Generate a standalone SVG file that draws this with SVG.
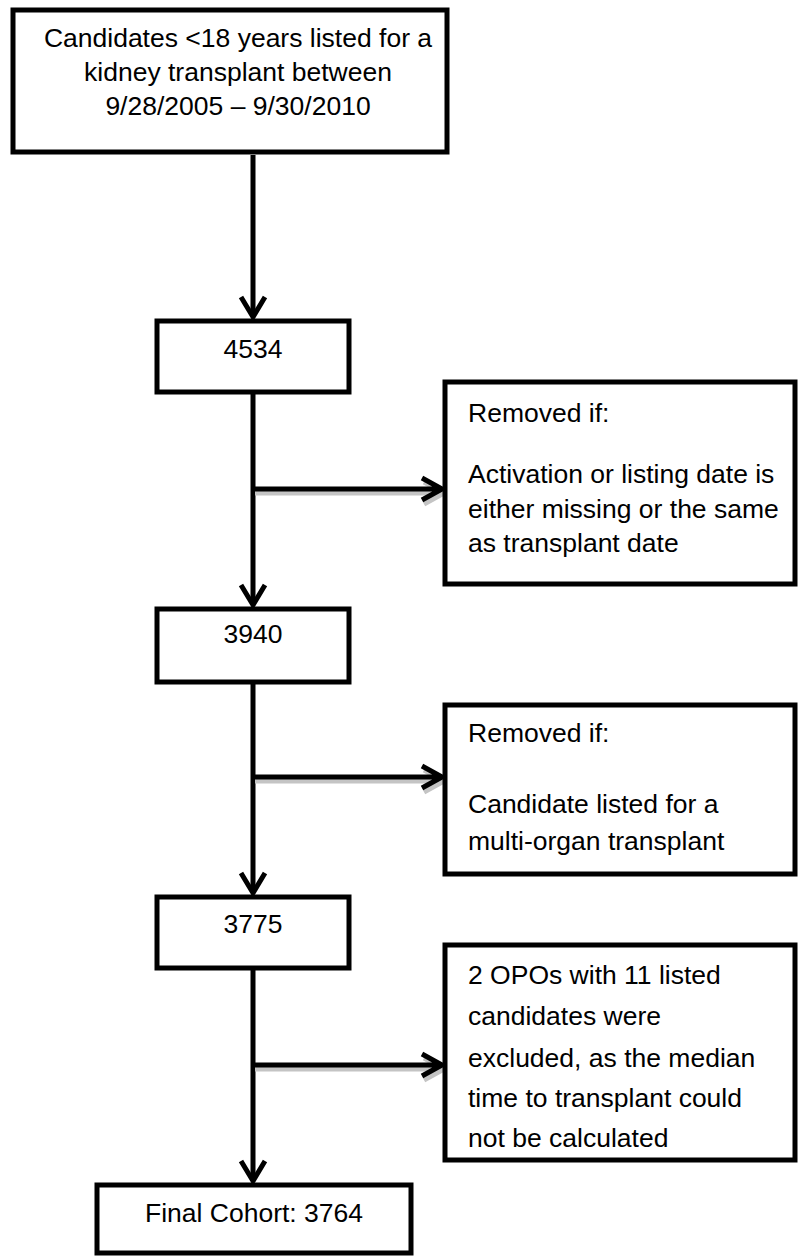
<svg xmlns="http://www.w3.org/2000/svg" width="798" height="1257" viewBox="0 0 798 1257">
<style>
.box{fill:#fff;stroke:#000;stroke-width:5}
.t{font-family:"Liberation Sans",Arial,sans-serif;font-size:26.5px;fill:#000}
.c{text-anchor:middle}
.ln{fill:none;stroke:#000;stroke-width:5}
.sh{fill:none;stroke:#c4c4c4;stroke-width:5}
</style>
<rect width="798" height="1257" fill="#fff"/>
<g id="connectors">
<path class="ln" d="M253,155V316"/>
<path class="ln" d="M241,297L253,317L265,297"/>
<path class="ln" d="M253,394V604"/>
<path class="ln" d="M241,585L253,605L265,585"/>
<path class="ln" d="M253,682V892"/>
<path class="ln" d="M241,873L253,893L265,873"/>
<path class="ln" d="M253,968V1180"/>
<path class="ln" d="M241,1161L253,1181L265,1161"/>
<path class="sh" d="M255,493H440M424,482L444,493L424,504"/>
<path class="ln" d="M253,489H440M422,478L442,489L422,500"/>
<path class="sh" d="M255,781H440M424,770L444,781L424,792"/>
<path class="ln" d="M253,777H440M422,766L442,777L422,788"/>
<path class="sh" d="M255,1069H440M424,1058L444,1069L424,1080"/>
<path class="ln" d="M253,1065H440M422,1054L442,1065L422,1076"/>
</g>
<g id="n-start">
<rect class="box" x="13" y="10" width="434" height="142"/>
<text class="t c" x="238" y="47">Candidates &lt;18 years listed for a</text>
<text class="t c" x="238" y="81">kidney transplant between</text>
<text class="t c" x="238" y="115">9/28/2005 – 9/30/2010</text>
</g>
<g id="n-4534">
<rect class="box" x="157" y="321" width="192" height="71"/>
<text class="t c" x="253" y="358">4534</text>
</g>
<g id="n-removed1">
<rect class="box" x="445" y="382" width="350" height="202"/>
<text class="t" x="468" y="422">Removed if:</text>
<text class="t" x="468" y="483">Activation or listing date is</text>
<text class="t" x="468" y="518">either missing or the same</text>
<text class="t" x="468" y="552">as transplant date</text>
</g>
<g id="n-3940">
<rect class="box" x="157" y="609" width="192" height="73"/>
<text class="t c" x="253" y="643">3940</text>
</g>
<g id="n-removed2">
<rect class="box" x="445" y="705" width="350" height="169"/>
<text class="t" x="468" y="742">Removed if:</text>
<text class="t" x="468" y="813">Candidate listed for a</text>
<text class="t" x="468" y="850">multi-organ transplant</text>
</g>
<g id="n-3775">
<rect class="box" x="157" y="897" width="192" height="71"/>
<text class="t c" x="253" y="933">3775</text>
</g>
<g id="n-excluded">
<rect class="box" x="445" y="945" width="350" height="215"/>
<text class="t" x="468" y="984">2 OPOs with 11 listed</text>
<text class="t" x="468" y="1025">candidates were</text>
<text class="t" x="468" y="1067">excluded, as the median</text>
<text class="t" x="468" y="1107">time to transplant could</text>
<text class="t" x="468" y="1147">not be calculated</text>
</g>
<g id="n-final">
<rect class="box" x="97" y="1185" width="314" height="68"/>
<text class="t c" x="254" y="1222">Final Cohort: 3764</text>
</g>
</svg>
